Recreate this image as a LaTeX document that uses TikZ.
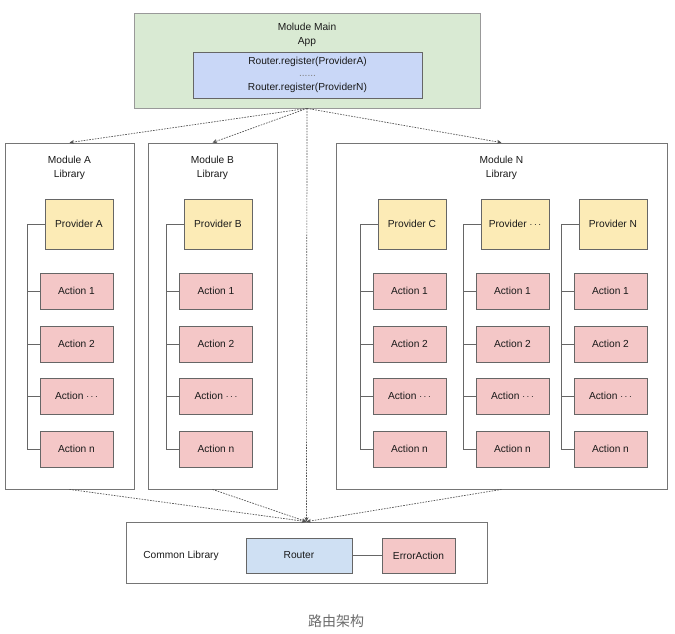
\documentclass[tikz,border=0pt]{standalone}
\usepackage{fontspec}
\setmainfont{Liberation Sans}
\newfontfamily\cjk{Noto Sans CJK SC}
\usetikzlibrary{arrows.meta}
\definecolor{appgreen}{HTML}{D9EAD3}
\definecolor{regblue}{HTML}{C9D7F7}
\definecolor{provyellow}{HTML}{FCEBB6}
\definecolor{actpink}{HTML}{F4C7C7}
\definecolor{routerblue}{HTML}{CFE0F3}
\definecolor{edge}{HTML}{666666}
\definecolor{txt}{HTML}{1A1A1A}
\definecolor{dots}{HTML}{555555}
\tikzset{
  base/.style={draw=edge, line width=0.8pt, inner sep=0pt, text=txt, font=\fontsize{10.2}{12}\selectfont},
  appbox/.style={base, draw=gray!80, fill=appgreen, minimum width=346pt, minimum height=95pt},
  regbox/.style={base, fill=regblue, minimum width=229pt, minimum height=46pt, align=center},
  modbox/.style={base, draw=edge!90, fill=white, minimum height=346pt},
  provbox/.style={base, fill=provyellow, minimum width=68pt, minimum height=50pt},
  actbox/.style={base, fill=actpink, minimum width=73pt, minimum height=36pt},
  routerbox/.style={base, fill=routerblue, minimum width=106pt, minimum height=35pt},
  errbox/.style={base, fill=actpink, minimum width=73pt, minimum height=35pt},
  commonbox/.style={base, draw=edge!90, fill=white, minimum width=361pt, minimum height=61pt},
  label/.style={text=txt, font=\fontsize{10.2}{14}\selectfont, align=center, inner sep=0pt},
  tree/.style={draw=edge, line width=0.8pt},
  dotarrow/.style={draw=dots, line width=0.7pt, dash pattern=on 1.6pt off 1.2pt, -{Stealth[length=4.5pt,width=4pt]}}
}
\begin{document}
\begin{tikzpicture}[x=1pt,y=-1pt]
\useasboundingbox[fill=white] (0,0) rectangle (675,633);

% main app
\node[appbox] (app) at (307,60.5) {};
\node[label] (apptitle) at (307,35) {Molude Main\\App};
\node[regbox] (reg) at (307.5,75) {Router.register(ProviderA)\\[0pt]{\color{gray}......}\\[2pt]Router.register(ProviderN)};

% module boxes
\node[modbox, minimum width=129pt] (modA) at (69.5,316) {};
\node[modbox, minimum width=129pt] (modB) at (212.5,316) {};
\node[modbox, minimum width=331pt] (modN) at (501.5,316) {};
\node[label] (modAt) at (69.5,168) {Module A\\Library};
\node[label] (modBt) at (212.5,168) {Module B\\Library};
\node[label] (modNt) at (501.5,168) {Module N\\Library};

% providers and actions
\foreach \id/\px/\ax/\bx/\pname in {A/79/76.5/27/Provider A, B/218/216/166/Provider B, C/412/409.5/360/Provider C, D/515/512.5/463/Provider $\cdots$, N/613/610.5/561/Provider N}{
  \node[provbox] (prov\id) at (\px,224) {\pname};
  \node[actbox] (act\id1) at (\ax,291) {Action 1};
  \node[actbox] (act\id2) at (\ax,344) {Action 2};
  \node[actbox] (act\id3) at (\ax,396) {Action $\cdots$};
  \node[actbox] (act\id4) at (\ax,449) {Action n};
  \coordinate (br\id) at (\bx,224);
  \draw[tree] (prov\id.west) -- (br\id) |- (act\id4.west);
  \draw[tree] (act\id1.west) -- (br\id |- act\id1.west);
  \draw[tree] (act\id2.west) -- (br\id |- act\id2.west);
  \draw[tree] (act\id3.west) -- (br\id |- act\id3.west);
}

% common library
\node[commonbox] (common) at (306.5,552.5) {};
\node[label] (commont) at (181,556) {Common Library};
\node[routerbox] (router) at (299,555.5) {Router};
\node[errbox] (err) at (418.5,555.5) {ErrorAction};
\draw[tree] (router.east) -- (err.west);

% dotted connectors
\draw[dotarrow] (app.south) -- (modA.north);
\draw[dotarrow] (app.south) -- (modB.north);
\draw[dotarrow] (app.south) -- (modN.north);
\draw[dotarrow] (app.south) -- (common.north);
\draw[dotarrow] (modA.south) -- (common.north);
\draw[dotarrow] (modB.south) -- (common.north);
\draw[dotarrow] (modN.south) -- (common.north);

% caption
\node[text=gray!85!black, font=\cjk\fontsize{14}{16}\selectfont, inner sep=0pt] (caption) at (336,621) {路由架构};
\end{tikzpicture}
\end{document}
